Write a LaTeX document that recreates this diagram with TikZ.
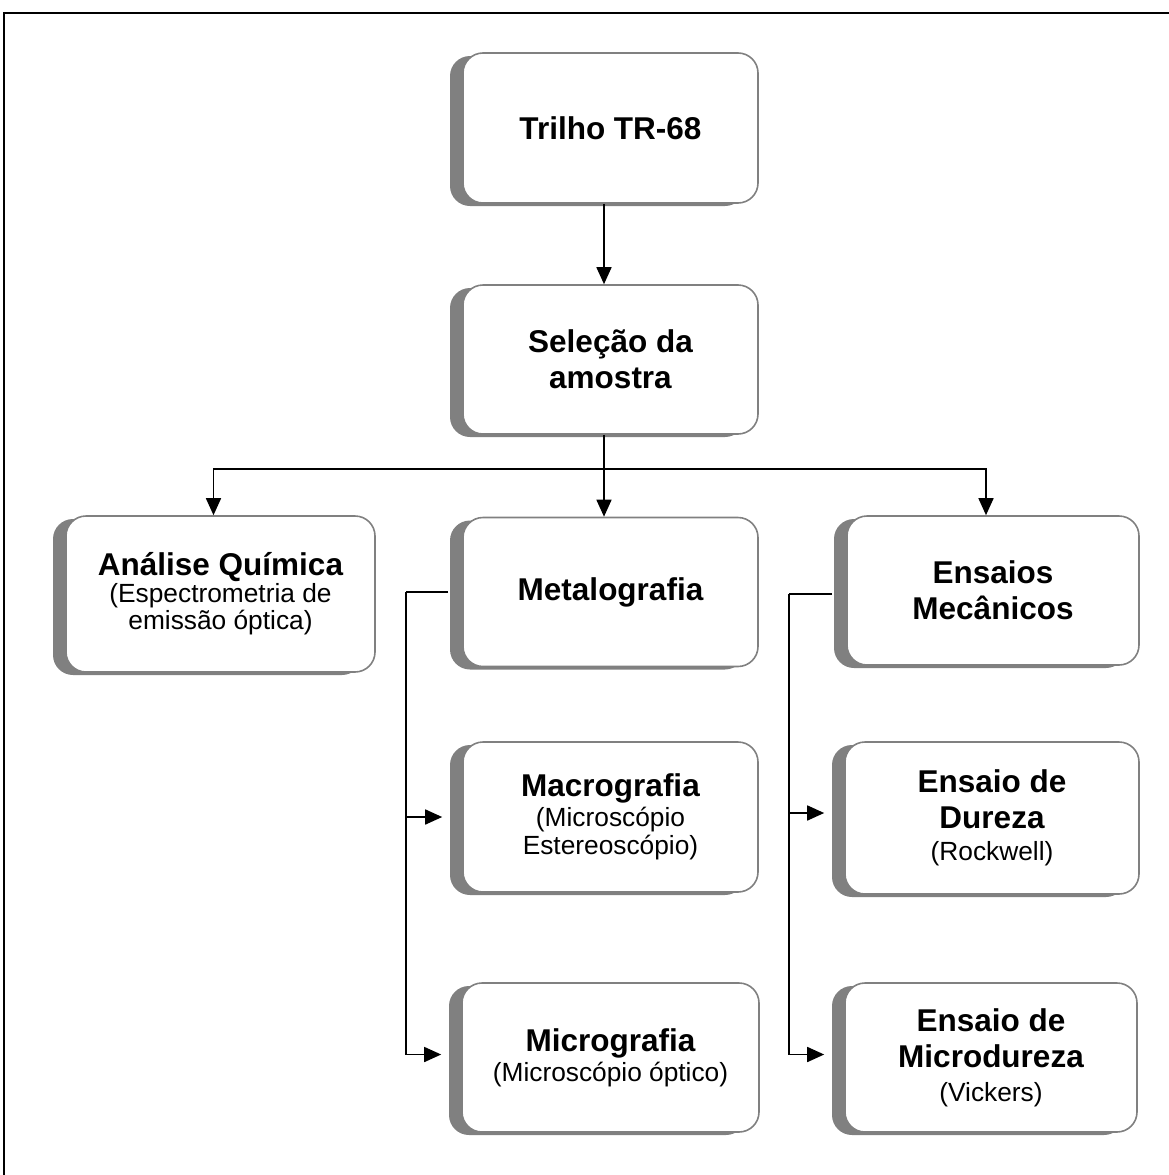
\documentclass[tikz,border=0pt]{standalone}
\usepackage{fontspec}
\setmainfont{Liberation Sans}
\usetikzlibrary{shadows,arrows.meta}
\newcommand{\bt}{\fontsize{31.5}{36}\selectfont\bfseries}
\newcommand{\st}[1]{{\fontsize{26.3}{29}\selectfont\mdseries #1}}
\definecolor{boxgray}{HTML}{808080}
\tikzset{
  procbox/.style={rectangle, rounded corners=20pt, draw=boxgray, line width=1.6pt,
    fill=white, align=center, font=\bt, inner sep=0pt,
    minimum width=#1,
    drop shadow={shadow xshift=-13pt, shadow yshift=-3pt, fill=boxgray, opacity=1}},
  procbox/.default=295pt,
  conn/.style={line width=1.6pt, draw=black},
  arr/.style={conn, -{Triangle[length=17pt,width=15pt]}},
}
\begin{document}
\begin{tikzpicture}[x=1pt,y=-1pt]
\useasboundingbox (0,0) rectangle (1169,1175);
% outer frame (partly visible)
\draw[line width=2pt] (4,1190) -- (4,13) -- (1190,13);

\node[procbox, minimum height=150pt] (trilho) at (610.5,128) {Trilho TR-68};
\node[procbox, minimum height=149pt] (selecao) at (610.5,359.5) {Seleção da\\amostra};
\node[procbox=309pt, minimum height=156pt] (analise) at (220.5,594)
  {Análise Química\\[-9pt]\st{(Espectrometria de}\\[-9pt]\st{emissão óptica)}};
\node[procbox, minimum height=149pt] (metal) at (610.5,592) {Metalografia};
\node[procbox=292pt, minimum height=149pt] (mec) at (993,590.5) {Ensaios\\Mecânicos};
\node[procbox, minimum height=150pt] (macro) at (610.5,817)
  {Macrografia\\[-6pt]\st{(Microscópio}\\[-8pt]\st{Estereoscópio)}};
\node[procbox=294pt, minimum height=152pt] (dureza) at (992,818)
  {Ensaio de\\Dureza\\[-4pt]\st{(Rockwell)}};
\node[procbox=297pt, minimum height=149pt] (micro) at (610.5,1057.5)
  {Micrografia\\[-6pt]\st{(Microscópio óptico)}};
\node[procbox=292pt, minimum height=149pt] (microd) at (991,1057.5)
  {Ensaio de\\Microdureza\\[-2pt]\st{(Vickers)}};

% main flow
\draw[arr] ([xshift=-6.5pt]trilho.south) -- ([xshift=-6.5pt]selecao.north);
\coordinate (hub) at ([xshift=-6.5pt,yshift=-34pt]selecao.south);
\draw[conn] ([xshift=-6.5pt]selecao.south) -- (hub);
\draw[arr] (hub) -| ([xshift=-7pt]analise.north);
\draw[arr] (hub) -- ([xshift=-6.5pt]metal.north);
\draw[arr] (hub) -| ([xshift=-7pt]mec.north);

% metalografia branch
\coordinate (mleft) at (406,592);
\draw[conn, line width=2.2pt] ([xshift=-14pt]metal.west) -- (mleft);
\draw[arr] (mleft) |- ([xshift=-20pt,yshift=3pt]micro.west);
\draw[arr] (mleft |- macro.west) -- ([xshift=-20pt]macro.west);

% ensaios mecanicos branch
\coordinate (eleft) at (789,594);
\draw[conn] ([xshift=-14pt,yshift=-3.5pt]mec.west) -- (eleft);
\draw[arr] (eleft) |- ([xshift=-20pt,yshift=3pt]microd.west);
\draw[arr] ([yshift=5pt]eleft |- dureza.west) -- ([xshift=-20pt,yshift=5pt]dureza.west);
\end{tikzpicture}
\end{document}
